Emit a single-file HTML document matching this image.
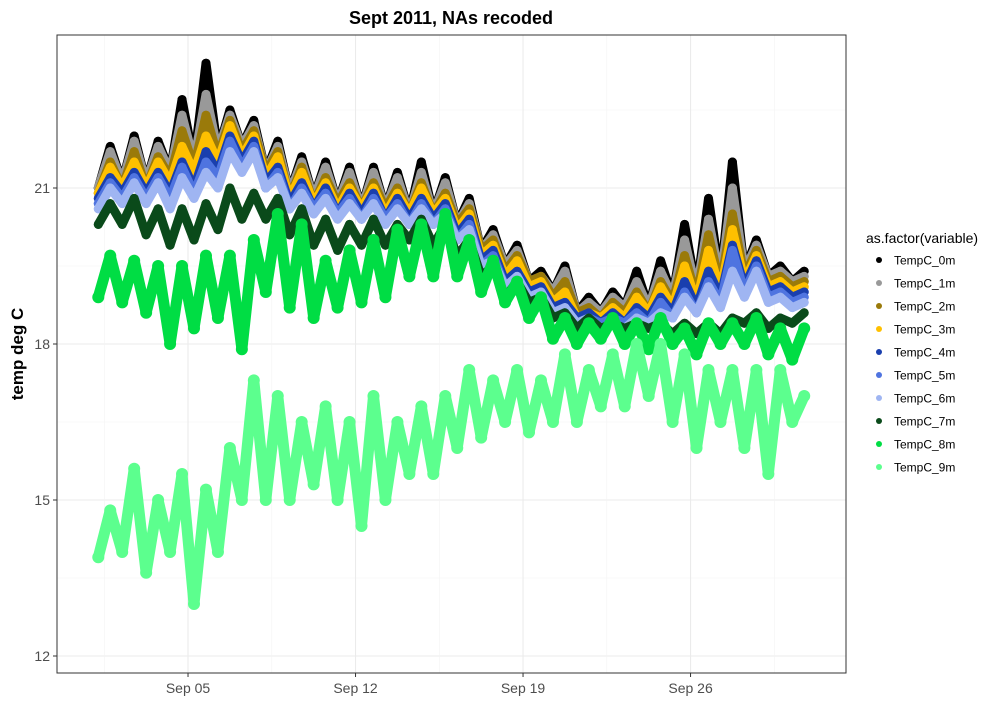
<!DOCTYPE html>
<html><head><meta charset="utf-8"><style>
body{margin:0;background:#fff;font-family:"Liberation Sans",Arial,sans-serif;}
svg text{font-family:"Liberation Sans",Arial,sans-serif;}
</style></head><body>
<svg id="chart" width="1000" height="700" xmlns="http://www.w3.org/2000/svg">
<rect x="0" y="0" width="1000" height="700" fill="#fff"/>
<text x="451" y="24" text-anchor="middle" font-size="18" font-weight="bold">Sept 2011, NAs recoded</text>
<g id="grid"></g>
<g id="series"></g>
<rect x="57" y="35" width="789" height="638" fill="none" stroke="#333" stroke-width="1"/>
<g id="axes"></g>
<text transform="translate(23,354) rotate(-90)" text-anchor="middle" font-size="17" font-weight="bold">temp deg C</text>
<g id="legend">
<text x="866" y="243" font-size="14">as.factor(variable)</text>
</g>
</svg>
<script>
const seriesNames=["TempC_0m","TempC_1m","TempC_2m","TempC_3m","TempC_4m","TempC_5m","TempC_6m","TempC_7m","TempC_8m","TempC_9m"];
const seriesColors=["#000000","#999999","#9a7a0a","#ffc000","#1a3fae","#4f74e0","#9fb5f2","#0a4a1a","#00dd44","#5cff8e"];
const yTicks=[12,15,18,21];
const xTickDays=[4,11,18,25];
const xTickLabels=["Sep 05","Sep 12","Sep 19","Sep 26"];
const temp0m=[21.0,21.8,21.1,22.0,21.1,21.9,21.3,22.7,21.5,23.4,21.7,22.5,21.8,22.3,21.3,21.9,20.9,21.6,20.8,21.5,20.7,21.4,20.6,21.4,20.6,21.3,20.5,21.5,20.5,21.2,20.3,20.8,19.8,20.2,19.5,19.9,19.2,19.4,19.0,19.5,18.6,18.9,18.6,19.0,18.7,19.4,18.7,19.6,18.9,20.3,19.0,20.8,19.2,21.5,19.4,20.0,19.3,19.5,19.2,19.4];
const temp1m=[21.0,21.7,21.1,21.9,21.1,21.8,21.3,22.4,21.5,22.8,21.7,22.4,21.8,22.2,21.3,21.8,20.9,21.5,20.8,21.4,20.7,21.3,20.6,21.3,20.6,21.2,20.5,21.3,20.5,21.1,20.3,20.7,19.8,20.1,19.5,19.8,19.2,19.3,19.0,19.4,18.6,18.8,18.6,18.9,18.7,19.2,18.7,19.4,18.9,20.0,19.0,20.4,19.2,21.0,19.4,19.9,19.3,19.4,19.2,19.3];
const temp2m=[20.9,21.5,21.0,21.7,21.0,21.6,21.2,22.1,21.4,22.4,21.6,22.3,21.7,22.1,21.3,21.7,20.8,21.4,20.7,21.2,20.7,21.1,20.6,21.1,20.6,21.0,20.5,21.1,20.5,20.9,20.3,20.6,19.8,20.0,19.4,19.7,19.2,19.3,18.9,19.2,18.6,18.7,18.5,18.8,18.6,19.0,18.6,19.2,18.8,19.7,18.9,20.1,19.1,20.5,19.3,19.8,19.2,19.3,19.1,19.2];
const temp3m=[20.9,21.4,21.0,21.5,21.0,21.5,21.1,21.8,21.3,22.0,21.5,22.2,21.6,22.0,21.2,21.6,20.8,21.3,20.7,21.1,20.6,21.0,20.6,21.0,20.5,20.9,20.5,21.0,20.5,20.8,20.2,20.5,19.7,19.9,19.3,19.6,19.1,19.2,18.8,19.0,18.5,18.6,18.5,18.7,18.5,18.9,18.6,19.1,18.7,19.5,18.8,19.8,19.0,20.2,19.2,19.7,19.1,19.2,19.0,19.1];
const temp4m=[20.8,21.2,20.9,21.3,20.9,21.3,20.9,21.5,21.0,21.7,21.3,22.0,21.5,21.9,21.1,21.4,20.7,21.1,20.6,21.0,20.5,20.9,20.5,20.9,20.4,20.8,20.4,20.8,20.4,20.7,20.1,20.4,19.6,19.8,19.2,19.4,19.0,19.1,18.7,18.8,18.5,18.6,18.4,18.6,18.4,18.7,18.5,18.9,18.6,19.2,18.7,19.4,18.9,19.9,19.1,19.6,19.0,19.1,18.9,19.0];
const temp5m=[20.7,21.1,20.8,21.2,20.8,21.2,20.8,21.4,20.9,21.5,21.2,21.9,21.4,21.8,21.0,21.3,20.6,21.0,20.6,20.9,20.5,20.8,20.4,20.8,20.4,20.7,20.3,20.7,20.3,20.6,20.0,20.3,19.5,19.7,19.1,19.3,18.9,19.0,18.6,18.7,18.4,18.5,18.4,18.5,18.4,18.6,18.4,18.8,18.5,19.0,18.6,19.2,18.8,19.8,19.0,19.5,18.9,19.0,18.8,18.9];
const temp6m=[20.6,21.0,20.7,21.1,20.7,21.1,20.6,21.2,20.8,21.3,21.0,21.7,21.3,21.7,21.0,21.2,20.6,20.9,20.5,20.8,20.4,20.7,20.4,20.7,20.3,20.6,20.3,20.6,20.3,20.5,20.0,20.2,19.5,19.6,19.1,19.3,18.9,19.0,18.6,18.7,18.4,18.5,18.3,18.4,18.3,18.5,18.4,18.6,18.5,18.9,18.6,19.1,18.7,19.4,18.9,19.4,18.8,18.9,18.7,18.8];
const temp7m=[20.3,20.7,20.3,20.8,20.1,20.6,19.9,20.6,20.0,20.7,20.2,21.0,20.4,20.9,20.4,20.8,20.1,20.6,19.9,20.4,19.8,20.3,19.9,20.4,19.9,20.3,20.0,20.4,19.9,20.3,19.7,20.0,19.3,19.5,18.9,19.2,18.8,18.9,18.5,18.6,18.3,18.5,18.3,18.4,18.3,18.4,18.3,18.4,18.2,18.4,18.2,18.4,18.2,18.5,18.4,18.6,18.3,18.5,18.4,18.6];
const temp8m=[18.9,19.7,18.8,19.6,18.6,19.5,18.0,19.5,18.3,19.7,18.5,19.7,17.9,20.0,19.0,20.5,18.7,20.3,18.5,19.6,18.7,19.8,18.8,20.0,18.9,20.2,19.3,20.3,19.3,20.5,19.3,20.0,19.0,19.6,18.8,19.2,18.5,18.9,18.1,18.5,18.0,18.4,18.1,18.5,18.0,18.4,17.9,18.5,18.0,18.3,17.8,18.4,18.0,18.4,18.0,18.5,17.8,18.3,17.7,18.3];
const temp9m=[13.9,14.8,14.0,15.6,13.6,15.0,14.0,15.5,13.0,15.2,14.0,16.0,15.0,17.3,15.0,17.0,15.0,16.5,15.3,16.8,15.0,16.5,14.5,17.0,15.0,16.5,15.5,16.8,15.5,17.0,16.0,17.5,16.2,17.3,16.5,17.5,16.3,17.3,16.5,17.8,16.5,17.5,16.8,17.8,16.8,18.0,17.0,18.0,16.5,17.8,16.0,17.5,16.5,17.5,16.0,17.5,15.5,17.5,16.5,17.0];
const seriesValues=[temp0m,temp1m,temp2m,temp3m,temp4m,temp5m,temp6m,temp7m,temp8m,temp9m];

const NS="http://www.w3.org/2000/svg";
const xScale=d=>92.3+d*23.93;
const yScale=t=>188-(t-21)*52;
const timeOf=i=>i*0.5+0.25;
function mk(tag,attrs,parent){const e=document.createElementNS(NS,tag);for(const k in attrs)e.setAttribute(k,attrs[k]);parent.appendChild(e);return e;}
const grid=document.getElementById('grid');
const bg=mk('rect',{x:57,y:35,width:789,height:638,fill:'#fff'},grid);


for(let k=0;k<yTicks.length;k++){
  const v=yTicks[k];
  const l=mk('line',{x1:57,x2:846,y1:yScale(v),y2:yScale(v),stroke:'#ebebeb','stroke-width':1.1},grid);
  
  
  const m=mk('line',{x1:57,x2:846,y1:yScale(v+1.5),y2:yScale(v+1.5),stroke:'#f3f3f3','stroke-width':0.6},grid);
  
  
}
const xm=mk('line',{x1:xScale(0.5),x2:xScale(0.5),y1:35,y2:673,stroke:'#f3f3f3','stroke-width':0.6},grid);


for(let k=0;k<xTickDays.length;k++){
  const x=xScale(xTickDays[k]);
  const l=mk('line',{x1:x,x2:x,y1:35,y2:673,stroke:'#ebebeb','stroke-width':1.1},grid);
  
  
  const m=mk('line',{x1:xScale(xTickDays[k]+3.5),x2:xScale(xTickDays[k]+3.5),y1:35,y2:673,stroke:'#f3f3f3','stroke-width':0.6},grid);
  
  
}
const sg=document.getElementById('series');
for(let s=0;s<seriesValues.length;s++){
  const vals=seriesValues[s];
  const g=mk('g',{},sg);
  
  
  const wide=(s>=8);
  const pts=vals.map((v,i)=>xScale(timeOf(i)).toFixed(1)+','+yScale(v).toFixed(1)).join(' ');
  const pl=mk('polyline',{points:pts,fill:'none',stroke:seriesColors[s],'stroke-width':wide?11:9,'stroke-linejoin':'round','stroke-linecap':'round'},g);
  
  
  vals.forEach((v,i)=>{
    const c=mk('circle',{cx:xScale(timeOf(i)),cy:yScale(v),r:wide?6:4.5,fill:seriesColors[s]},g);
    
    
  });
}
const ax=document.getElementById('axes');
yTicks.forEach(v=>{
  const t=mk('line',{x1:53,x2:57,y1:yScale(v),y2:yScale(v),stroke:'#333'},ax);
  
  
  const tx=mk('text',{x:50,y:yScale(v)+5,'text-anchor':'end','font-size':14,fill:'#4d4d4d'},ax);
  tx.textContent=String(v);
  
  
});
xTickDays.forEach((d,k)=>{
  const x=xScale(d);
  const t=mk('line',{x1:x,x2:x,y1:673,y2:677,stroke:'#333'},ax);
  
  
  const tx=mk('text',{x:x,y:693,'text-anchor':'middle','font-size':14,fill:'#4d4d4d'},ax);
  tx.textContent=xTickLabels[k];
  
  
});
const lg=document.getElementById('legend');
seriesNames.forEach((n,i)=>{
  const y=260+i*23;
  const g=mk('g',{},lg);
  
  
  const c=mk('circle',{cx:879,cy:y,r:3,fill:seriesColors[i]},g);
  
  
  const t=mk('text',{x:894,y:y+4.5,'font-size':12},g);
  t.textContent=n;
  
  
});
</script>
</body></html>
